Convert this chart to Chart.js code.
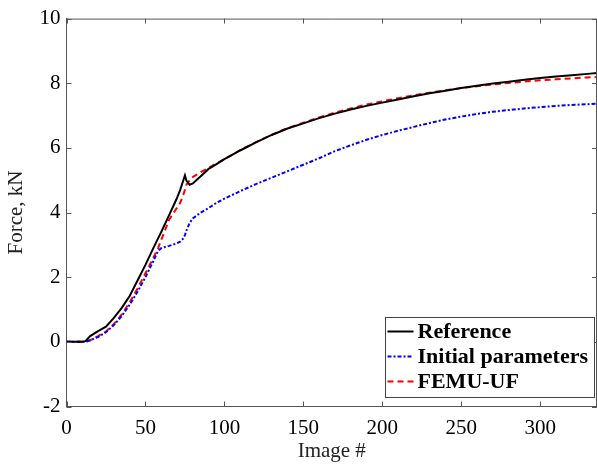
<!DOCTYPE html>
<html lang="en">
<head>
    <meta charset="UTF-8">
    <title>Force vs image</title>
    <script src="https://cdn.jsdelivr.net/npm/chart.js"></script>
    <style>
        html, body { margin: 0; padding: 0; background: #fff; }
        #wrap { width: 597px; height: 468px; }
    </style>
</head>
<body>
    <div id="wrap"><canvas id="forceChart" width="597" height="468"></canvas></div>

    <script>
        // image numbers (x) shared by the three curves
        const imageNo = [0, 5, 10, 12, 15, 20, 25, 30, 35, 40, 45, 50, 55, 58, 60, 65, 70, 72, 74, 75, 76, 78, 80, 85, 90, 95,
            100, 110, 120, 130, 140, 150, 160, 170, 180, 190, 200, 210, 220, 230, 240, 250, 260, 270, 280, 290, 300, 310, 320, 330, 336];

        // force in kN
        const reference = [0, 0, 0, 0.02, 0.18, 0.33, 0.47, 0.74, 1.05, 1.42, 1.9, 2.38, 2.9, 3.2, 3.4, 3.92, 4.45, 4.7, 5.0, 5.15, 4.98, 4.86, 4.9, 5.12, 5.35, 5.5,
            5.65, 5.92, 6.17, 6.4, 6.6, 6.76, 6.92, 7.06, 7.19, 7.3, 7.4, 7.5, 7.6, 7.69, 7.77, 7.85, 7.92, 7.99, 8.05, 8.11, 8.16, 8.21, 8.25, 8.29, 8.32];
        const initialParams = [0, 0, 0, 0, 0.05, 0.15, 0.3, 0.52, 0.8, 1.15, 1.55, 2.0, 2.5, 2.82, 2.9, 2.97, 3.05, 3.1, 3.2, 3.3, 3.45, 3.68, 3.82, 4.0, 4.14, 4.3,
            4.43, 4.66, 4.88, 5.08, 5.28, 5.48, 5.68, 5.9, 6.08, 6.25, 6.4, 6.53, 6.65, 6.77, 6.88, 6.97, 7.05, 7.12, 7.17, 7.22, 7.26, 7.3, 7.33, 7.35, 7.37];
        const femuUF = [0, 0, 0, 0, 0.05, 0.18, 0.32, 0.55, 0.85, 1.22, 1.65, 2.12, 2.6, 2.9, 3.15, 3.78, 4.15, 4.3, 4.55, 4.7, 4.86, 5.0, 5.1, 5.25, 5.38, 5.52,
            5.65, 5.93, 6.18, 6.41, 6.61, 6.78, 6.94, 7.09, 7.22, 7.34, 7.44, 7.54, 7.63, 7.71, 7.78, 7.85, 7.91, 7.96, 8.01, 8.05, 8.09, 8.12, 8.15, 8.18, 8.19];

        const xTicks = [0, 50, 100, 150, 200, 250, 300];
        const yTicks = [-2, 0, 2, 4, 6, 8, 10];

        const serif = "'Liberation Serif', 'Times New Roman', serif";
        const axisColor = '#555';

        const toPoints = vals => vals.map((v, i) => ({ x: imageNo[i], y: v }));

        // box frame + inward ticks + boxed legend
        const framePlugin = {
            id: 'frame',
            afterDraw(chart) {
                const { ctx, chartArea: a, scales } = chart;
                ctx.save();
                ctx.strokeStyle = axisColor;
                ctx.lineWidth = 1;
                ctx.beginPath();
                ctx.moveTo(a.left + 0.5, a.top + 0.5);
                ctx.lineTo(a.right - 0.5, a.top + 0.5);
                ctx.moveTo(a.right - 0.5, a.top);
                ctx.lineTo(a.right - 0.5, a.bottom);
                const len = 5;
                xTicks.forEach(t => {
                    const px = Math.round(scales.x.getPixelForValue(t)) + 0.5;
                    ctx.moveTo(px, a.bottom); ctx.lineTo(px, a.bottom - len);
                    ctx.moveTo(px, a.top); ctx.lineTo(px, a.top + len);
                });
                yTicks.forEach(t => {
                    const py = Math.round(scales.y.getPixelForValue(t)) + 0.5;
                    ctx.moveTo(a.left, py); ctx.lineTo(a.left + len, py);
                    ctx.moveTo(a.right, py); ctx.lineTo(a.right - len, py);
                });
                ctx.stroke();

                // legend
                const lx = 385.5, ly = 317.5, lw = 209, lh = 80;
                ctx.fillStyle = '#fff';
                ctx.fillRect(lx, ly, lw, lh);
                ctx.strokeStyle = '#444';
                ctx.strokeRect(lx, ly, lw, lh);
                ctx.font = 'bold 22px ' + serif;
                ctx.textBaseline = 'middle';
                chart.data.datasets.forEach((ds, i) => {
                    const cy = ly + 14 + i * 25;
                    ctx.strokeStyle = ds.borderColor;
                    ctx.lineWidth = 2;
                    ctx.setLineDash(ds.borderDash || []);
                    ctx.beginPath();
                    ctx.moveTo(lx + 2, cy);
                    ctx.lineTo(lx + 28, cy);
                    ctx.stroke();
                    ctx.setLineDash([]);
                    ctx.fillStyle = '#000';
                    ctx.fillText(ds.label, lx + 32, cy + 1);
                });
                ctx.restore();
            }
        };

        const ctx = document.getElementById('forceChart').getContext('2d');
        new Chart(ctx, {
            type: 'line',
            data: {
                datasets: [
                    { label: 'Reference', data: toPoints(reference), borderColor: '#000', borderWidth: 2 },
                    { label: 'Initial parameters', data: toPoints(initialParams), borderColor: '#0000ff', borderWidth: 2, borderDash: [4, 2, 2, 2] },
                    { label: 'FEMU-UF', data: toPoints(femuUF), borderColor: '#ff0000', borderWidth: 2, borderDash: [6, 4] }
                ]
            },
            options: {
                responsive: false,
                animation: false,
                layout: { padding: { top: 16, right: 0, left: 0, bottom: 0 } },
                elements: { point: { radius: 0 }, line: { tension: 0, fill: false } },
                plugins: { legend: { display: false }, tooltip: { enabled: false } },
                scales: {
                    x: {
                        type: 'linear',
                        min: 0,
                        max: 336,
                        afterFit: s => { s.height = 61.5; },
                        afterBuildTicks: s => { s.ticks = xTicks.map(v => ({ value: v })); },
                        grid: { drawOnChartArea: false, drawTicks: false },
                        border: { color: axisColor, width: 1 },
                        ticks: { color: '#000', padding: 9, font: { family: serif, size: 21 }, maxRotation: 0 },
                        title: { display: true, text: 'Image #', color: '#222', padding: { top: 0 }, font: { family: serif, size: 21 } }
                    },
                    y: {
                        min: -2,
                        max: 10,
                        afterFit: s => { s.width = 66.5; },
                        afterBuildTicks: s => { s.ticks = yTicks.map(v => ({ value: v })); },
                        grid: { drawOnChartArea: false, drawTicks: false },
                        border: { color: axisColor, width: 1 },
                        ticks: { color: '#000', padding: 6, font: { family: serif, size: 21 } },
                        title: { display: true, text: 'Force, kN', color: '#222', padding: { bottom: 0 }, font: { family: serif, size: 21 } }
                    }
                }
            },
            plugins: [framePlugin]
        });
    </script>
</body>
</html>
